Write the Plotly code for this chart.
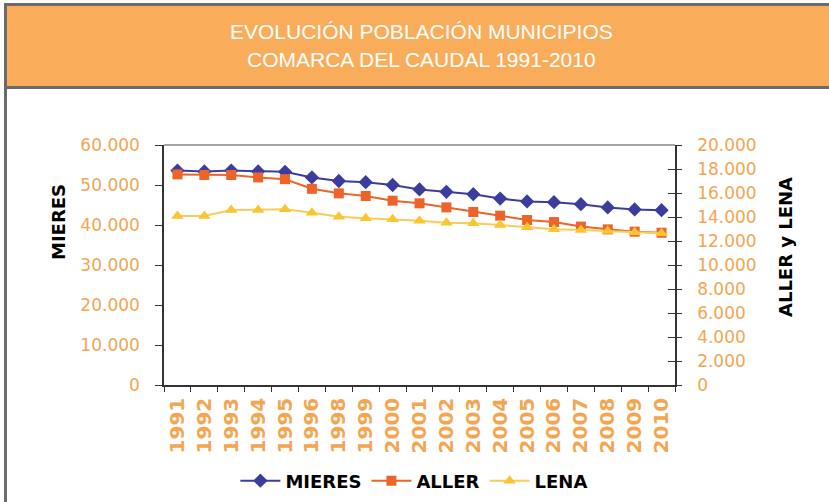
import plotly.graph_objects as go

years = ['1991', '1992', '1993', '1994', '1995', '1996', '1998', '1999', '2000', '2001',
         '2002', '2003', '2004', '2005', '2006', '2007', '2008', '2009', '2010']
mieres = [53600, 53400, 53600, 53400, 53300, 51900, 51000, 50700, 50000, 48900,
          48300, 47700, 46600, 45900, 45700, 45200, 44400, 43900, 43700]
aller = [17550, 17500, 17500, 17300, 17150, 16350, 15970, 15750, 15360, 15140,
         14800, 14420, 14110, 13750, 13580, 13200, 12970, 12780, 12690]
lena = [14080, 14080, 14580, 14580, 14640, 14350, 14030, 13890, 13810, 13690,
        13530, 13470, 13330, 13140, 12970, 12920, 12830, 12720, 12640]

W, H = 829, 502
ML, MR, MT, MB = 164, 154, 145, 117
PW, PH = W - ML - MR, H - MT - MB

def px(x):
    return (x - ML) / PW

def py(y):
    return (H - MB - y) / PH

ORANGE_TXT = '#F3A550'
BLUE = '#3B3D9E'
RED = '#EC6428'
YELLOW = '#F9C530'
YLINE = '#F8CC58'

fig = go.Figure()
fig.add_trace(go.Scatter(x=years, y=mieres, name='MIERES', mode='lines+markers',
                         line=dict(color=BLUE, width=2),
                         marker=dict(symbol='diamond', size=11, color=BLUE)))
fig.add_trace(go.Scatter(x=years, y=aller, name='ALLER', mode='lines+markers', yaxis='y2',
                         line=dict(color=RED, width=2),
                         marker=dict(symbol='square', size=10, color=RED)))
fig.add_trace(go.Scatter(x=years, y=lena, name='LENA', mode='lines+markers', yaxis='y2',
                         line=dict(color=YLINE, width=2),
                         marker=dict(symbol='triangle-up', size=11, color=YELLOW)))
fig.add_trace(go.Scatter(x=[years[0]], y=[None], yaxis='y3', showlegend=False,
                         hoverinfo='skip'))

tickfont = dict(family='DejaVu Sans', size=17, color=ORANGE_TXT)

fig.update_layout(
    width=W, height=H,
    margin=dict(l=ML, r=MR, t=MT, b=MB, pad=0, autoexpand=False),
    paper_bgcolor='white', plot_bgcolor='white',
    separators=',.',
    showlegend=True,
    legend=dict(orientation='h', x=0.49, xanchor='center', y=py(481), yanchor='middle',
                font=dict(family='DejaVu Sans', size=18, color='black', weight='bold'),
                itemwidth=40, tracegroupgap=0, bgcolor='rgba(0,0,0,0)'),
    xaxis=dict(type='category', showgrid=False, zeroline=False,
               showline=True, linecolor='#333333', linewidth=1.5,
               ticks='outside', ticklen=5, tickcolor='#333333', tickson='boundaries',
               tickangle=-90, automargin=False, ticklabelstandoff=3,
               tickfont=dict(family='DejaVu Sans', size=20, color=ORANGE_TXT, weight='bold'),
               range=[-0.5, len(years) - 0.5]),
    yaxis=dict(range=[0, 60000], tickvals=[0, 10000, 20000, 30000, 40000, 50000, 60000],
               tickformat=',d', showgrid=False, zeroline=False, automargin=False,
               showline=True, linecolor='#333333', linewidth=1.5,
               ticks='outside', ticklen=7, tickcolor='#333333',
               tickfont=tickfont, ticklabelstandoff=12),
    yaxis2=dict(range=[0, 20000], dtick=2000, tick0=0, tickformat=',d',
                overlaying='y', side='right', anchor='x', automargin=False,
                showgrid=False, zeroline=False,
                showline=True, linecolor='#333333', linewidth=1.5,
                ticks='outside', ticklen=5, tickcolor='#333333',
                tickfont=tickfont, ticklabelstandoff=12),
    yaxis3=dict(range=[0, 20000], dtick=2000, tick0=0,
                overlaying='y', side='right', anchor='x', automargin=False,
                showgrid=False, zeroline=False, showline=False,
                ticks='inside', ticklen=7, tickcolor='#333333',
                showticklabels=False),
)

# header band and frame
fig.add_shape(type='rect', xref='paper', yref='paper',
              x0=px(5.5), x1=px(845), y0=py(87.5), y1=py(4.5),
              fillcolor='#F9AD5A', line=dict(color='#6B6B6B', width=3), layer='below')
fig.add_shape(type='line', xref='paper', yref='paper',
              x0=px(5.5), x1=px(5.5), y0=py(87.5), y1=py(520),
              line=dict(color='#6B6B6B', width=3))
# top border of plot area
fig.add_shape(type='line', xref='paper', yref='paper',
              x0=0, x1=1, y0=1, y1=1, line=dict(color='#888888', width=1.5))

fig.add_annotation(xref='paper', yref='paper', x=px(421), y=py(32),
                   text='EVOLUCIÓN POBLACIÓN MUNICIPIOS', showarrow=False,
                   xanchor='center', yanchor='middle',
                   font=dict(family='Liberation Sans', size=21, color='white'))
fig.add_annotation(xref='paper', yref='paper', x=px(421), y=py(60),
                   text='COMARCA DEL CAUDAL 1991-2010', showarrow=False,
                   xanchor='center', yanchor='middle',
                   font=dict(family='Liberation Sans', size=21, color='white'))

fig.add_annotation(xref='paper', yref='paper', x=px(58), y=py(222),
                   text='MIERES', showarrow=False, textangle=-90,
                   xanchor='center', yanchor='middle',
                   font=dict(family='DejaVu Sans', size=18, color='black', weight='bold'))
fig.add_annotation(xref='paper', yref='paper', x=px(785), y=py(247),
                   text='ALLER y LENA', showarrow=False, textangle=-90,
                   xanchor='center', yanchor='middle',
                   font=dict(family='DejaVu Sans', size=18, color='black', weight='bold'))

fig.write_html('out.html', config={'displayModeBar': False},
               post_script="document.body.style.margin='0';")
